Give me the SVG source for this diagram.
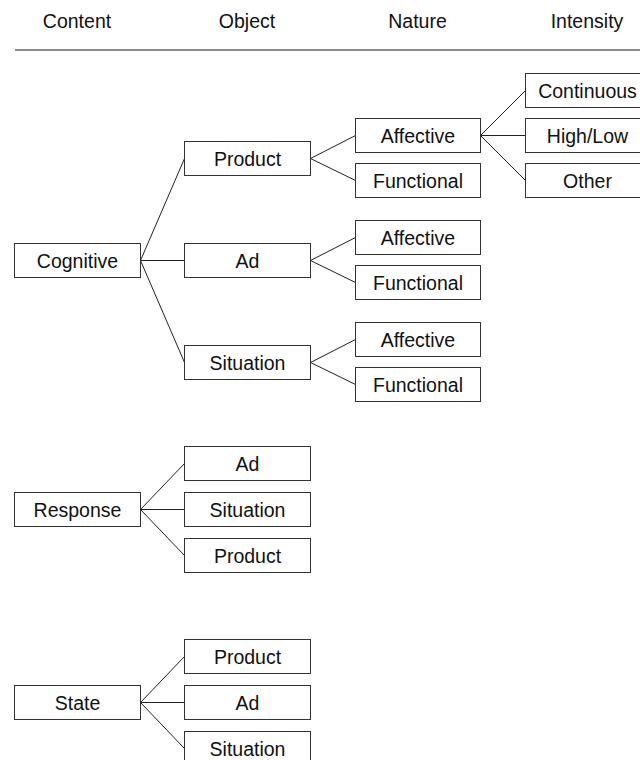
<svg xmlns="http://www.w3.org/2000/svg" width="640" height="760" viewBox="0 0 640 760">
  <style>
    .box rect { fill: #ffffff; stroke: #333333; stroke-width: 1; }
    .box text, .head { font-family: "Liberation Sans", Arial, sans-serif; font-size: 19.5px; fill: #111111; text-anchor: middle; }
    #connectors line { stroke: #222222; stroke-width: 1; }
    .rule { stroke: #666666; stroke-width: 1.5; }
  </style>
  <rect x="0" y="0" width="640" height="760" fill="#ffffff"/>

  <!-- column headings -->
  <g id="headings">
    <text class="head" x="77" y="28">Content</text>
    <text class="head" x="247" y="28">Object</text>
    <text class="head" x="417.5" y="28">Nature</text>
    <text class="head" x="587" y="28">Intensity</text>
    <line class="rule" x1="15" y1="50" x2="640" y2="50"/>
  </g>

  <!-- connectors: parent right edge to child left edge -->
  <g id="connectors">
    <line x1="140.5" y1="260.5" x2="184.5" y2="158.5"/>
    <line x1="140.5" y1="260.5" x2="184.5" y2="260.5"/>
    <line x1="140.5" y1="260.5" x2="184.5" y2="362.5"/>

    <line x1="310.5" y1="158.5" x2="355.5" y2="135.5"/>
    <line x1="310.5" y1="158.5" x2="355.5" y2="180.5"/>

    <line x1="480.5" y1="135.5" x2="525.5" y2="90.5"/>
    <line x1="480.5" y1="135.5" x2="525.5" y2="135.5"/>
    <line x1="480.5" y1="135.5" x2="525.5" y2="180.5"/>

    <line x1="310.5" y1="260.5" x2="355.5" y2="237.5"/>
    <line x1="310.5" y1="260.5" x2="355.5" y2="282.5"/>

    <line x1="310.5" y1="362.5" x2="355.5" y2="339.5"/>
    <line x1="310.5" y1="362.5" x2="355.5" y2="384.5"/>

    <line x1="140.5" y1="509.5" x2="184.5" y2="463.5"/>
    <line x1="140.5" y1="509.5" x2="184.5" y2="509.5"/>
    <line x1="140.5" y1="509.5" x2="184.5" y2="555.5"/>

    <line x1="140.5" y1="702.5" x2="184.5" y2="656.5"/>
    <line x1="140.5" y1="702.5" x2="184.5" y2="702.5"/>
    <line x1="140.5" y1="702.5" x2="184.5" y2="748.5"/>
  </g>

  <!-- Cognitive branch -->
  <g id="cognitive" class="box"><rect x="14.5" y="243.5" width="126" height="34"/><text x="77.5" y="267.5">Cognitive</text></g>
  <g id="cog-product" class="box"><rect x="184.5" y="141.5" width="126" height="34"/><text x="247.5" y="165.5">Product</text></g>
  <g id="cog-ad" class="box"><rect x="184.5" y="243.5" width="126" height="34"/><text x="247.5" y="267.5">Ad</text></g>
  <g id="cog-situation" class="box"><rect x="184.5" y="345.5" width="126" height="34"/><text x="247.5" y="369.5">Situation</text></g>

  <g id="product-affective" class="box"><rect x="355.5" y="118.5" width="125" height="34"/><text x="418" y="142.5">Affective</text></g>
  <g id="product-functional" class="box"><rect x="355.5" y="163.5" width="125" height="34"/><text x="418" y="187.5">Functional</text></g>

  <g id="intensity-continuous" class="box"><rect x="525.5" y="73.5" width="126" height="34"/><text x="587.5" y="97.5">Continuous</text></g>
  <g id="intensity-highlow" class="box"><rect x="525.5" y="118.5" width="126" height="34"/><text x="587.5" y="142.5">High/Low</text></g>
  <g id="intensity-other" class="box"><rect x="525.5" y="163.5" width="126" height="34"/><text x="587.5" y="187.5">Other</text></g>

  <g id="ad-affective" class="box"><rect x="355.5" y="220.5" width="125" height="34"/><text x="418" y="244.5">Affective</text></g>
  <g id="ad-functional" class="box"><rect x="355.5" y="265.5" width="125" height="34"/><text x="418" y="289.5">Functional</text></g>

  <g id="situation-affective" class="box"><rect x="355.5" y="322.5" width="125" height="34"/><text x="418" y="346.5">Affective</text></g>
  <g id="situation-functional" class="box"><rect x="355.5" y="367.5" width="125" height="34"/><text x="418" y="391.5">Functional</text></g>

  <!-- Response branch -->
  <g id="response" class="box"><rect x="14.5" y="492.5" width="126" height="34"/><text x="77.5" y="516.5">Response</text></g>
  <g id="resp-ad" class="box"><rect x="184.5" y="446.5" width="126" height="34"/><text x="247.5" y="470.5">Ad</text></g>
  <g id="resp-situation" class="box"><rect x="184.5" y="492.5" width="126" height="34"/><text x="247.5" y="516.5">Situation</text></g>
  <g id="resp-product" class="box"><rect x="184.5" y="538.5" width="126" height="34"/><text x="247.5" y="562.5">Product</text></g>

  <!-- State branch -->
  <g id="state" class="box"><rect x="14.5" y="685.5" width="126" height="34"/><text x="77.5" y="709.5">State</text></g>
  <g id="state-product" class="box"><rect x="184.5" y="639.5" width="126" height="34"/><text x="247.5" y="663.5">Product</text></g>
  <g id="state-ad" class="box"><rect x="184.5" y="685.5" width="126" height="34"/><text x="247.5" y="709.5">Ad</text></g>
  <g id="state-situation" class="box"><rect x="184.5" y="731.5" width="126" height="34"/><text x="247.5" y="755.5">Situation</text></g>
</svg>
